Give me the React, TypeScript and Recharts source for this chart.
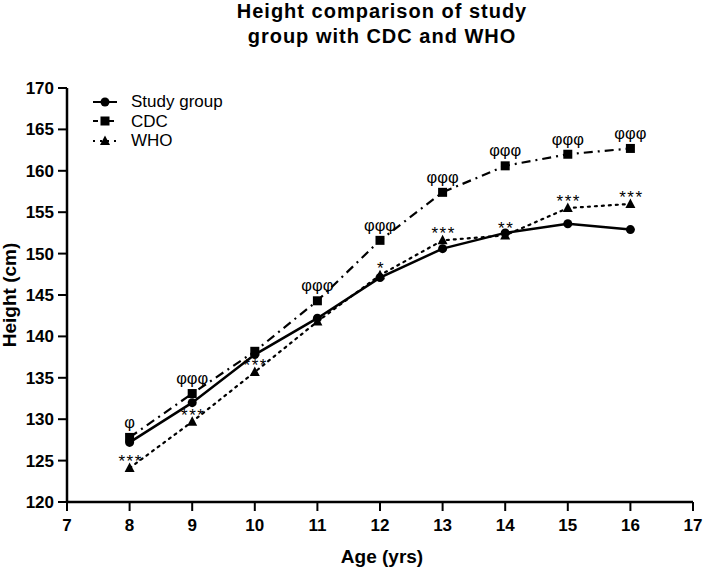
import React from 'react';
import { LineChart, Line, XAxis, YAxis, Legend, LabelList } from 'recharts';

const ages = [8, 9, 10, 11, 12, 13, 14, 15, 16];
const studyGroup = [127.2, 132.0, 137.8, 142.2, 147.1, 150.6, 152.5, 153.6, 152.9];
const cdc = [127.8, 133.1, 138.2, 144.3, 151.6, 157.4, 160.6, 162.0, 162.7];
const who = [124.1, 129.7, 135.7, 141.8, 147.4, 151.6, 152.2, 155.5, 156.0];
const cdcMarks = ['φ', 'φφφ', '', 'φφφ', 'φφφ', 'φφφ', 'φφφ', 'φφφ', 'φφφ'];
const whoMarks = ['***', '***', '***', '', '*', '***', '**', '***', '***'];
const xTicks = [7, 8, 9, 10, 11, 12, 13, 14, 15, 16, 17];
const yTicks = [120, 125, 130, 135, 140, 145, 150, 155, 160, 165, 170];

const data = ages.map((age, i) => ({
    age,
    study: studyGroup[i],
    cdc: cdc[i],
    who: who[i],
    cdcMark: cdcMarks[i],
    whoMark: whoMarks[i],
}));

const FONT = '"Liberation Sans", Arial, sans-serif';

const circleDot = (p: any) => <circle key={`c${p.index}`} cx={p.cx} cy={p.cy} r={4.5} fill="#000" />;
const squareDot = (p: any) => <rect key={`s${p.index}`} x={p.cx - 4.5} y={p.cy - 4.5} width={9} height={9} fill="#000" />;
const triangleDot = (p: any) => (
    <polygon key={`t${p.index}`} points={`${p.cx},${p.cy - 5.5} ${p.cx + 5},${p.cy + 4} ${p.cx - 5},${p.cy + 4}`} fill="#000" />
);

const phiLabel = (p: any) =>
    p.value ? (
        <text x={p.x} y={p.y - 9.5} textAnchor="middle" fontFamily={FONT} fontSize={16.5} fill="#000">
            {p.value}
        </text>
    ) : null;

const starLabel = (p: any) =>
    p.value ? (
        <text x={p.x + 1} y={p.y - 1} textAnchor="middle" fontFamily={FONT} fontSize={17} letterSpacing={1.5} fill="#000">
            {p.value}
        </text>
    ) : null;

const legendItems = [
    { name: 'Study group', dash: undefined, marker: 'circle' },
    { name: 'CDC', dash: '5 3', marker: 'square' },
    { name: 'WHO', dash: '2 5', marker: 'triangle' },
];

const renderLegend = () => (
    <div style={{ fontFamily: FONT, fontSize: 17, color: '#000' }}>
        {legendItems.map((item) => (
            <div key={item.name} style={{ display: 'flex', alignItems: 'center', height: 19.5 }}>
                <svg width={38} height={14} style={{ display: 'block' }}>
                    <line x1={0} y1={7} x2={24} y2={7} stroke="#000" strokeWidth={2} strokeDasharray={item.dash} />
                    {item.marker === 'circle' && <circle cx={12} cy={7} r={4.5} fill="#000" />}
                    {item.marker === 'square' && <rect x={7.5} y={2.5} width={9} height={9} fill="#000" />}
                    {item.marker === 'triangle' && <polygon points="12,1.5 17,11 7,11" fill="#000" />}
                </svg>
                <span style={{ lineHeight: '19px' }}>{item.name}</span>
            </div>
        ))}
    </div>
);

const axisTick = { fill: '#000', fontSize: 17, fontWeight: 700, fontFamily: FONT };

export default function App() {
    return (
        <div style={{ position: 'absolute', left: 0, top: 0, width: 709, height: 571, background: '#fff' }}>
            <LineChart width={709} height={571} data={data} margin={{ top: 88, right: 16, bottom: 39, left: 7 }}>
                <XAxis
                    dataKey="age"
                    type="number"
                    domain={[7, 17]}
                    ticks={xTicks}
                    height={30}
                    tick={axisTick}
                    tickSize={9}
                    tickMargin={8}
                    axisLine={{ stroke: '#000', strokeWidth: 2.5 }}
                    tickLine={{ stroke: '#000', strokeWidth: 2 }}
                />
                <YAxis
                    type="number"
                    domain={[120, 170]}
                    ticks={yTicks}
                    width={60}
                    tick={axisTick}
                    tickSize={9}
                    tickMargin={4}
                    axisLine={{ stroke: '#000', strokeWidth: 2.5 }}
                    tickLine={{ stroke: '#000', strokeWidth: 2 }}
                />
                <Legend
                    layout="vertical"
                    align="center"
                    verticalAlign="middle"
                    content={renderLegend}
                    wrapperStyle={{ left: 93, top: 92, width: 'auto', height: 'auto' }}
                />
                <Line
                    dataKey="who"
                    stroke="#000"
                    strokeWidth={2.2}
                    strokeDasharray="2 5"
                    strokeLinecap="round"
                    dot={triangleDot}
                    isAnimationActive={false}
                >
                    <LabelList dataKey="whoMark" content={starLabel} />
                </Line>
                <Line
                    dataKey="cdc"
                    stroke="#000"
                    strokeWidth={2.2}
                    strokeDasharray="9 5 2 5"
                    dot={squareDot}
                    isAnimationActive={false}
                >
                    <LabelList dataKey="cdcMark" content={phiLabel} />
                </Line>
                <Line dataKey="study" stroke="#000" strokeWidth={2.5} dot={circleDot} isAnimationActive={false} />
            </LineChart>
            <svg width={709} height={571} style={{ position: 'absolute', left: 0, top: 0, pointerEvents: 'none' }}>
                <g fontFamily={FONT} fontWeight={700} fill="#000" textAnchor="middle">
                    <text x={382} y={17.5} fontSize={20} letterSpacing={1}>Height comparison of study</text>
                    <text x={382} y={43} fontSize={20} letterSpacing={1}>group with CDC and WHO</text>
                    <text x={382} y={563} fontSize={19}>Age (yrs)</text>
                    <text transform="translate(16,295) rotate(-90)" fontSize={19}>Height (cm)</text>
                </g>
            </svg>
        </div>
    );
}
